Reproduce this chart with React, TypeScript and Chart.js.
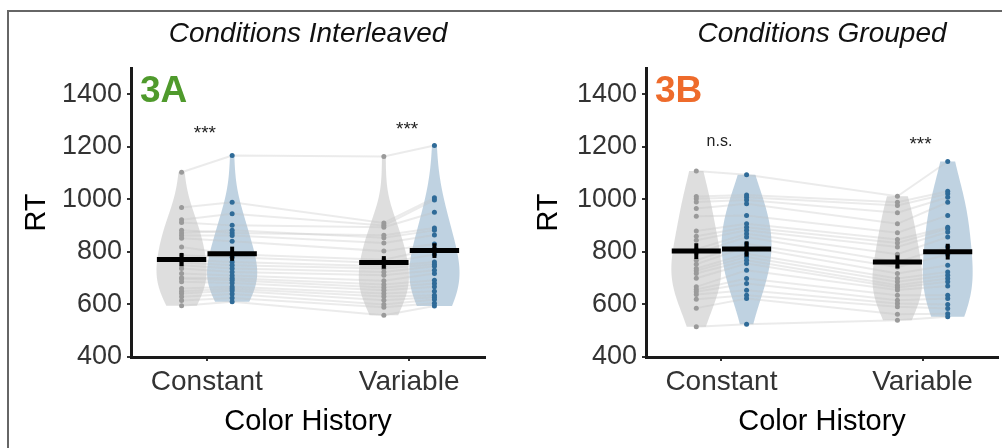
import { useEffect, useRef } from "react";
import { Chart, registerables } from "chart.js";
Chart.register(...registerables);

// ---------- data ----------
const categories = ["Constant", "Variable"];
const yTickValues = [400, 600, 800, 1000, 1200, 1400];
const panelTitles = ["Conditions Interleaved", "Conditions Grouped"];
const panelLabels = ["3A", "3B"];
const sigLabelsA = ["***", "***"];
const sigValuesA = [1265, 1280];
const sigLabelsB = ["n.s.", "***"];
const sigValuesB = [1220, 1224];

// Panel A (interleaved) — per subject, same order in all four arrays
const aConstGray = [1103, 969, 922, 912, 882, 872, 862, 852, 819, 787, 770, 760, 749, 737, 718, 702, 698, 686, 661, 650, 642, 629, 615, 595];
const aConstBlue = [1167, 989, 945, 901, 872, 882, 862, 841, 791, 780, 762, 749, 737, 724, 710, 700, 692, 682, 667, 660, 652, 640, 625, 610];
const aVarGray = [1163, 910, 901, 894, 863, 854, 834, 803, 770, 758, 745, 737, 724, 711, 690, 676, 665, 654, 642, 630, 616, 600, 589, 559];
const aVarBlue = [1205, 1006, 998, 951, 891, 882, 864, 830, 812, 790, 762, 753, 745, 730, 718, 692, 680, 667, 650, 635, 627, 619, 605, 594];
const aMeans = [771, 793, 760, 805];
const aSems = [25, 27, 24, 28];

// Panel B (grouped)
const bConstGray = [1108, 1011, 1002, 990, 965, 936, 880, 860, 844, 810, 795, 768, 753, 737, 728, 718, 700, 667, 657, 648, 638, 620, 586, 515];
const bConstBlue = [1094, 1017, 1008, 998, 983, 939, 907, 894, 882, 869, 857, 831, 819, 793, 781, 768, 756, 730, 699, 680, 654, 635, 623, 525];
const bVarGray = [1012, 989, 977, 949, 907, 873, 847, 834, 819, 791, 762, 743, 718, 699, 686, 673, 665, 655, 635, 616, 604, 591, 563, 540];
const bVarBlue = [1144, 1031, 1021, 1008, 989, 939, 894, 888, 876, 857, 820, 790, 749, 724, 711, 699, 686, 670, 635, 623, 600, 585, 565, 553];
const bMeans = [803, 811, 762, 801];
const bSems = [30, 29, 25, 30];

// ---------- styles ----------
const FONT = "'Liberation Sans', Arial, sans-serif";
const GRAY_FILL = "rgba(220,220,220,0.95)";
const BLUE_FILL = "rgba(186,206,222,0.92)";
const GRAY_DOT = "#9a9a9a";
const BLUE_DOT = "#2f6b98";
const LINE_COL = "rgba(195,195,195,0.33)";
const OFFSET = 0.125;
const HALF_W = 0.124;
const BW_ADJUST = 1.5;

function quantile(sorted: number[], p: number) {
  const idx = (sorted.length - 1) * p;
  const lo = Math.floor(idx);
  const hi = Math.ceil(idx);
  return sorted[lo] + (sorted[hi] - sorted[lo]) * (idx - lo);
}

function kde(values: number[], n = 160) {
  const sorted = [...values].sort((a, b) => a - b);
  const N = sorted.length;
  const mean = sorted.reduce((s, v) => s + v, 0) / N;
  const sd = Math.sqrt(sorted.reduce((s, v) => s + (v - mean) ** 2, 0) / (N - 1));
  const iqr = quantile(sorted, 0.75) - quantile(sorted, 0.25);
  const bw = BW_ADJUST * 0.9 * Math.min(sd, iqr / 1.34) * Math.pow(N, -0.2);
  const lo = sorted[0];
  const hi = sorted[N - 1];
  const pts: [number, number][] = [];
  let max = 0;
  for (let i = 0; i <= n; i++) {
    const y = lo + ((hi - lo) * i) / n;
    let d = 0;
    for (const v of sorted) d += Math.exp(-0.5 * ((y - v) / bw) ** 2);
    pts.push([y, d]);
    if (d > max) max = d;
  }
  return pts.map(([y, d]) => [y, d / max] as [number, number]);
}

type PanelSpec = {
  groups: number[][];
  means: number[];
  sems: number[];
  title: string;
  label: string;
  labelColor: string;
  sigLabels: string[];
  sigValues: number[];
  padLeft: number;
  padRight: number;
  yWidth: number;
};

function groupX(i: number) {
  const cat = i < 2 ? 1 : 2;
  return i % 2 === 0 ? cat - OFFSET : cat + OFFSET;
}

function buildChart(canvas: HTMLCanvasElement, spec: PanelSpec) {
  const fills = [GRAY_FILL, BLUE_FILL, GRAY_FILL, BLUE_FILL];
  const dots = [GRAY_DOT, BLUE_DOT, GRAY_DOT, BLUE_DOT];
  const datasets: any[] = [];

  // means + error bars (on top)
  spec.means.forEach((m, i) => {
    const xc = groupX(i);
    datasets.push({
      data: [{ x: xc - 0.122, y: m }, { x: xc + 0.122, y: m }],
      showLine: true, borderColor: "#000", borderWidth: 5, pointRadius: 0, order: 0, borderCapStyle: "butt",
    });
    datasets.push({
      data: [{ x: xc, y: m - spec.sems[i] }, { x: xc, y: m + spec.sems[i] }],
      showLine: true, borderColor: "#000", borderWidth: 4, pointRadius: 0, order: 0, borderCapStyle: "butt",
    });
  });
  // points
  spec.groups.forEach((g, i) => {
    const xc = groupX(i);
    datasets.push({
      data: g.map((v) => ({ x: xc, y: v })),
      showLine: false, pointRadius: 2.5, pointBackgroundColor: dots[i], pointBorderWidth: 0, order: 1,
    });
  });
  // subject lines
  const n = spec.groups[0].length;
  for (let s = 0; s < n; s++) {
    datasets.push({
      data: spec.groups.map((g, i) => ({ x: groupX(i), y: g[s] })),
      showLine: true, borderColor: LINE_COL, borderWidth: 2, pointRadius: 0, order: 2,
    });
  }

  const violinPlugin = {
    id: "violins",
    beforeDatasetsDraw(chart: any) {
      const { ctx, scales } = chart;
      const xs = scales.x;
      const ys = scales.y;
      spec.groups.forEach((g, i) => {
        const xc = groupX(i);
        const pts = kde(g);
        ctx.save();
        ctx.beginPath();
        pts.forEach(([y, d], k) => {
          const px = xs.getPixelForValue(xc + d * HALF_W);
          const py = ys.getPixelForValue(y);
          if (k === 0) ctx.moveTo(px, py);
          else ctx.lineTo(px, py);
        });
        for (let k = pts.length - 1; k >= 0; k--) {
          const [y, d] = pts[k];
          ctx.lineTo(xs.getPixelForValue(xc - d * HALF_W), ys.getPixelForValue(y));
        }
        ctx.closePath();
        ctx.fillStyle = fills[i];
        ctx.fill();
        ctx.restore();
      });
    },
    afterDraw(chart: any) {
      const { ctx, chartArea, scales } = chart;
      ctx.save();
      // title
      ctx.font = `italic 28px ${FONT}`;
      ctx.fillStyle = "#111";
      ctx.textAlign = "center";
      ctx.textBaseline = "alphabetic";
      ctx.fillText(spec.title, (chartArea.left + chartArea.right) / 2, 42);
      // panel label
      ctx.font = `bold 37px ${FONT}`;
      ctx.fillStyle = spec.labelColor;
      ctx.textAlign = "left";
      ctx.fillText(spec.label, chartArea.left + 9, 102);
      // significance labels
      ctx.fillStyle = "#222";
      ctx.textAlign = "center";
      ctx.textBaseline = "middle";
      spec.sigLabels.forEach((t, i) => {
        const isStar = t.includes("*");
        ctx.font = isStar ? `19px ${FONT}` : `16px ${FONT}`;
        ctx.fillText(t, scales.x.getPixelForValue(i + 1) - 2, scales.y.getPixelForValue(spec.sigValues[i]) + (isStar ? 4 : 0));
      });
      ctx.restore();
    },
  };

  const gridCfg = { display: true, drawOnChartArea: false, drawTicks: true, tickLength: 4, color: "#333", lineWidth: 2 };
  const borderCfg = { display: true, color: "#1a1a1a", width: 3 };

  return new Chart(canvas, {
    type: "scatter",
    data: { datasets },
    plugins: [violinPlugin],
    options: {
      animation: false,
      responsive: false,
      events: [],
      layout: { padding: { left: spec.padLeft, right: spec.padRight, top: 68, bottom: 7 } },
      plugins: { legend: { display: false }, tooltip: { enabled: false } },
      scales: {
        x: {
          type: "linear",
          min: 0.625,
          max: 2.375,
          afterBuildTicks: (s: any) => { s.ticks = categories.map((_, i) => ({ value: i + 1 })); },
          afterFit: (s: any) => { s.height = 84; },
          ticks: {
            callback: (v: any) => categories[Math.round(Number(v)) - 1] ?? "",
            font: { family: FONT, size: 28 },
            color: "#333",
            padding: 4,
            maxRotation: 0,
          },
          grid: gridCfg,
          border: borderCfg,
          title: { display: true, text: "Color History", font: { family: FONT, size: 29 }, color: "#000", padding: { top: 0, bottom: 2 } },
        },
        y: {
          type: "linear",
          min: 400,
          max: 1500,
          afterBuildTicks: (s: any) => { s.ticks = yTickValues.map((v) => ({ value: v })); },
          afterFit: (s: any) => { s.width = spec.yWidth; },
          ticks: { font: { family: FONT, size: 27 }, color: "#333", padding: 5, callback: (v: any) => String(v) },
          grid: gridCfg,
          border: borderCfg,
          title: { display: true, text: "RT", font: { family: FONT, size: 29 }, color: "#000", padding: { top: 12, bottom: 0 } },
        },
      },
    } as any,
  });
}

export default function App() {
  const refA = useRef<HTMLCanvasElement>(null);
  const refB = useRef<HTMLCanvasElement>(null);

  useEffect(() => {
    const a = buildChart(refA.current!, {
      groups: [aConstGray, aConstBlue, aVarGray, aVarBlue],
      means: aMeans,
      sems: aSems,
      title: panelTitles[0],
      label: panelLabels[0],
      labelColor: "#4f9a2c",
      sigLabels: sigLabelsA,
      sigValues: sigValuesA,
      padLeft: 8,
      padRight: 15,
      yWidth: 123,
    });
    const b = buildChart(refB.current!, {
      groups: [bConstGray, bConstBlue, bVarGray, bVarBlue],
      means: bMeans,
      sems: bSems,
      title: panelTitles[1],
      label: panelLabels[1],
      labelColor: "#ee6b2b",
      sigLabels: sigLabelsB,
      sigValues: sigValuesB,
      padLeft: 20,
      padRight: 2,
      yWidth: 126,
    });
    return () => {
      a.destroy();
      b.destroy();
    };
  }, []);

  return (
    <div style={{ position: "absolute", left: 0, top: 0, width: 1002, height: 448, background: "#fff", overflow: "hidden" }}>
      <canvas ref={refA} width={500} height={448} style={{ position: "absolute", left: 0, top: 0 }} />
      <canvas ref={refB} width={502} height={448} style={{ position: "absolute", left: 500, top: 0 }} />
      <div style={{ position: "absolute", left: 7, top: 10, width: 1000, height: 440, borderLeft: "2px solid #666", borderTop: "2px solid #666", pointerEvents: "none" }} />
    </div>
  );
}
